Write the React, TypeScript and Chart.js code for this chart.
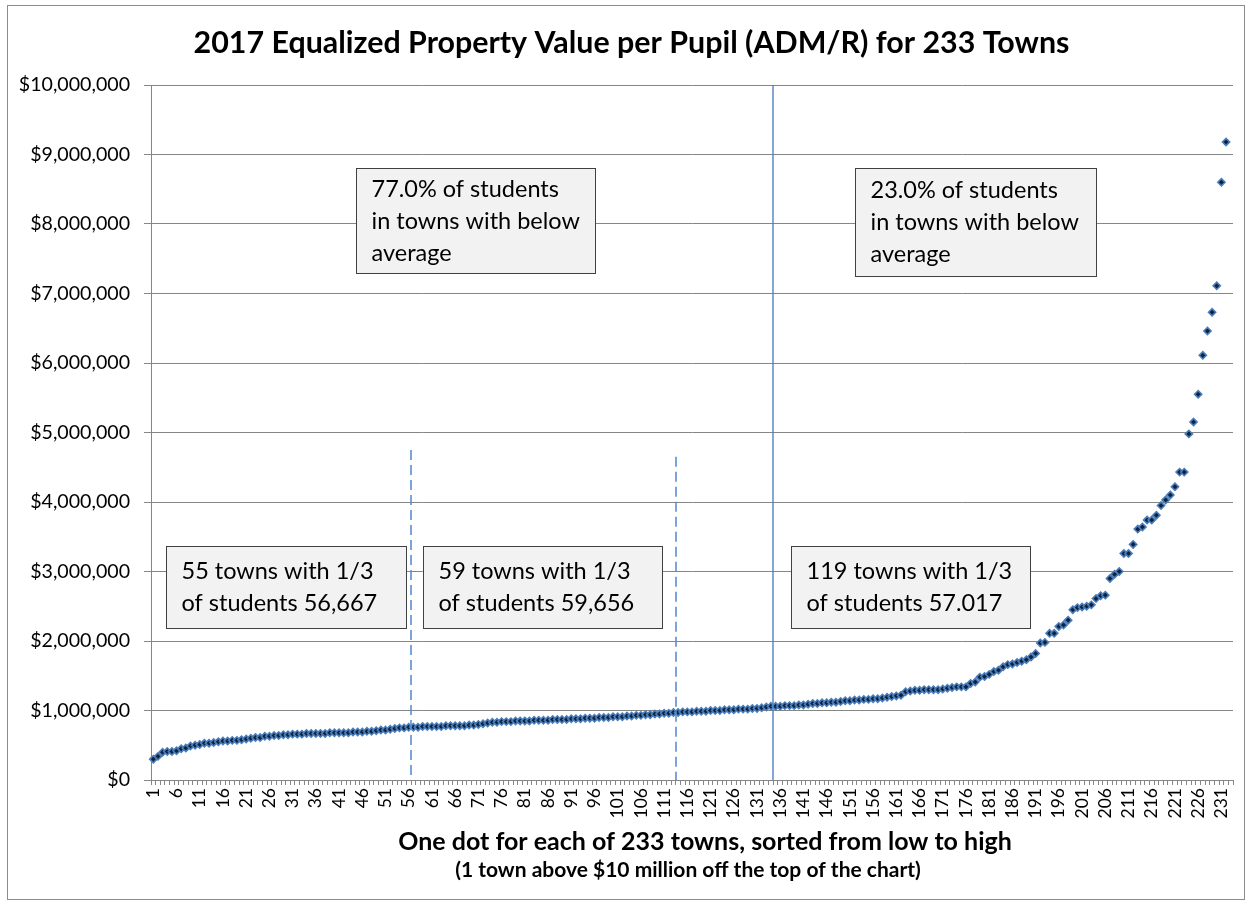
import React, { useEffect, useRef } from 'react';
import { Chart, registerables } from 'chart.js';

Chart.register(...registerables);

const FONT = 'Lato, "Open Sans", sans-serif';

// Equalized property value per pupil, sorted low to high (dollars)
const valuesLow = [
  300000, 340000, 400000, 410000, 410000, 420000, 450000, 460000, 490000, 500000,
  510000, 530000, 530000, 540000, 550000, 560000, 560000, 570000, 570000, 580000,
  590000, 600000, 610000, 610000, 630000, 630000, 640000, 640000, 650000, 650000,
  660000, 660000, 660000, 670000,
  670000, 670000, 670000, 670000, 680000, 680000, 680000, 680000, 680000, 690000,
  690000, 690000, 700000, 700000, 710000, 720000, 720000, 730000, 740000, 750000,
  750000, 760000, 760000, 760000, 770000, 770000, 770000, 770000, 770000, 780000,
  780000, 780000,
];
const valuesMid = [
  780000, 780000, 790000, 790000, 800000, 810000, 820000, 830000, 830000, 840000,
  840000, 840000, 850000, 850000, 850000, 850000, 860000, 860000, 860000, 860000,
  870000, 870000, 870000, 870000, 880000, 880000, 880000, 890000, 890000, 890000,
  900000, 900000, 900000, 910000,
  910000, 910000, 920000, 920000, 930000, 930000, 940000, 940000, 950000, 950000,
  960000, 960000, 970000, 970000, 980000, 980000, 980000, 990000, 990000, 990000,
  1000000, 1000000, 1000000, 1010000, 1010000, 1010000, 1020000, 1020000, 1020000, 1030000,
  1030000, 1040000, 1050000, 1060000,
];
const valuesUpper = [
  1060000, 1060000, 1070000, 1070000, 1070000, 1080000, 1080000, 1090000, 1100000, 1100000,
  1110000, 1110000, 1120000, 1120000, 1130000, 1140000, 1140000, 1150000, 1150000, 1160000,
  1160000, 1170000, 1170000, 1180000, 1190000, 1200000, 1210000, 1220000, 1270000, 1280000,
  1290000, 1290000,
  1300000, 1300000, 1300000, 1300000, 1310000, 1320000, 1330000, 1340000, 1340000, 1340000,
  1390000, 1410000, 1480000, 1490000, 1520000, 1560000, 1580000, 1630000, 1660000, 1670000,
  1690000, 1710000, 1730000, 1770000, 1820000, 1970000, 1980000, 2110000, 2110000, 2210000,
  2230000, 2300000, 2450000, 2480000, 2490000, 2500000, 2520000, 2610000, 2650000, 2660000,
  2900000, 2960000, 3000000,
];
const valuesTop = [
  3260000, 3260000, 3390000, 3610000, 3640000, 3740000, 3740000, 3810000, 3950000, 4030000,
  4100000, 4220000, 4430000, 4430000, 4980000, 5150000, 5550000, 6110000, 6460000, 6730000,
  7110000, 8600000, 9180000, 11500000,
];
const townValues = [...valuesLow, ...valuesMid, ...valuesUpper, ...valuesTop];
const townLabels = townValues.map((_, i) => String(i + 1));
const labelEvery = 5;

const yMin = 0;
const yMax = 10000000;
const yStep = 1000000;

const titleText = '2017 Equalized Property Value per Pupil (ADM/R) for 233 Towns';
const xTitleText = 'One dot for each of 233 towns, sorted from low to high';
const xSubtitleText = '(1 town above $10 million off the top of the chart)';

// Text boxes (x in category index units, y in dollars)
const noteLines = [
  ['77.0% of students', 'in towns with below', 'average'],
  ['23.0% of students', 'in towns with below', 'average'],
  ['55 towns with 1/3', 'of students 56,667'],
  ['59 towns with 1/3', 'of students 59,656'],
  ['119 towns with 1/3', 'of students 57.017'],
];
const noteLeft = [43.6, 151.1, 2.7, 58.1, 137.3];
const noteRight = [95.1, 203.0, 54.4, 109.5, 188.8];
const noteTop = [8800000, 8800000, 3370000, 3370000, 3370000];
const noteBottom = [7300000, 7250000, 2190000, 2190000, 2190000];

// Divider lines (category index units)
const dividerAt = [55.5, 112.5, 133.5];
const dividerTop = [4750000, 4650000, 10000000];
const dividerDashed = [true, true, false];

const notesPlugin = {
  id: 'notesPlugin',
  afterDatasetsDraw(chart: any) {
    const { ctx, chartArea } = chart;
    const x = chart.scales.x;
    const y = chart.scales.y;
    ctx.save();
    dividerAt.forEach((v, i) => {
      const px = Math.round(x.getPixelForValue(v));
      ctx.beginPath();
      ctx.strokeStyle = dividerDashed[i] ? '#5b8ed2' : '#4f81c7';
      ctx.lineWidth = dividerDashed[i] ? 1.6 : 1.4;
      ctx.setLineDash(dividerDashed[i] ? [10, 5] : []);
      ctx.moveTo(px, y.getPixelForValue(dividerTop[i]));
      ctx.lineTo(px, y.getPixelForValue(yMin));
      ctx.stroke();
    });
    ctx.setLineDash([]);
    noteLines.forEach((lines, i) => {
      const l = Math.round(x.getPixelForValue(noteLeft[i])) + 0.5;
      const r = Math.round(x.getPixelForValue(noteRight[i])) + 0.5;
      const t = Math.round(y.getPixelForValue(noteTop[i])) + 0.5;
      const b = Math.round(y.getPixelForValue(noteBottom[i])) + 0.5;
      ctx.fillStyle = '#f2f2f2';
      ctx.fillRect(l, t, r - l, b - t);
      ctx.strokeStyle = '#404040';
      ctx.lineWidth = 1;
      ctx.strokeRect(l, t, r - l, b - t);
      ctx.fillStyle = '#000';
      ctx.font = `23.5px ${FONT}`;
      ctx.textAlign = 'left';
      ctx.textBaseline = 'middle';
      const lh = 32;
      const start = (t + b) / 2 - (lines.length * lh) / 2 + lh / 2;
      lines.forEach((s, k) => ctx.fillText(s, l + 15, start + k * lh));
    });
    const cx = (chartArea.left + chartArea.right) / 2;
    ctx.fillStyle = '#000';
    ctx.textAlign = 'center';
    ctx.textBaseline = 'middle';
    ctx.font = `bold 30.4px ${FONT}`;
    ctx.fillText(titleText, cx - 60.5, chartArea.top - 42);
    ctx.font = `bold 25px ${FONT}`;
    ctx.fillText(xTitleText, cx + 13, chartArea.bottom + 62);
    ctx.font = `bold 21px ${FONT}`;
    ctx.fillText(xSubtitleText, cx - 4, chartArea.bottom + 90);
    ctx.restore();
  },
};

export default function App() {
  const canvasRef = useRef<HTMLCanvasElement | null>(null);

  useEffect(() => {
    const canvas = canvasRef.current;
    if (!canvas) return;
    const chart = new Chart(canvas, {
      type: 'line',
      data: {
        labels: townLabels,
        datasets: [
          {
            data: townValues,
            showLine: false,
            pointStyle: 'rectRot',
            pointRadius: 3.6,
            pointBorderWidth: 1.6,
            pointBackgroundColor: '#0f2340',
            pointBorderColor: '#4a7ebb',
          },
        ],
      },
      options: {
        responsive: false,
        animation: false,
        layout: { padding: { left: 0, right: 17, top: 85, bottom: 0 } },
        plugins: {
          legend: { display: false },
          tooltip: { enabled: false },
          title: { display: false },
        },
        scales: {
          x: {
            type: 'category',
            offset: true,
            afterFit: (scale: any) => {
              scale.height = 123;
              scale.paddingLeft = 0;
              scale.paddingRight = 0;
            },
            grid: {
              display: true,
              drawOnChartArea: false,
              drawTicks: true,
              tickLength: 5,
              offset: true,
              color: '#868686',
            },
            border: { display: true, color: '#868686' },
            ticks: {
              autoSkip: false,
              minRotation: 90,
              maxRotation: 90,
              padding: 3,
              color: '#000',
              font: { family: FONT, size: 17.5 },
              callback: function (this: any, value: any, index: number) {
                return index % labelEvery === 0 ? this.getLabelForValue(value) : '';
              },
            },
          },
          y: {
            min: yMin,
            max: yMax,
            afterFit: (scale: any) => {
              scale.width = 151;
            },
            grid: { color: '#868686', tickLength: 7 },
            border: { display: true, color: '#868686' },
            ticks: {
              stepSize: yStep,
              padding: 14,
              color: '#000',
              font: { family: FONT, size: 19.6 },
              callback: (v: any) => '$' + Number(v).toLocaleString('en-US'),
            },
          },
        },
      },
      plugins: [notesPlugin],
    });
    return () => chart.destroy();
  }, []);

  return (
    <div style={{ position: 'absolute', left: 0, top: 0, width: 1250, height: 903, background: '#fff' }}>
      <div
        style={{
          position: 'absolute',
          left: 7,
          top: 5,
          width: 1236,
          height: 893,
          border: '1px solid #8c8c8c',
        }}
      />
      <canvas
        ref={canvasRef}
        width={1250}
        height={903}
        style={{ position: 'absolute', left: 0, top: 0, display: 'block' }}
      />
    </div>
  );
}
